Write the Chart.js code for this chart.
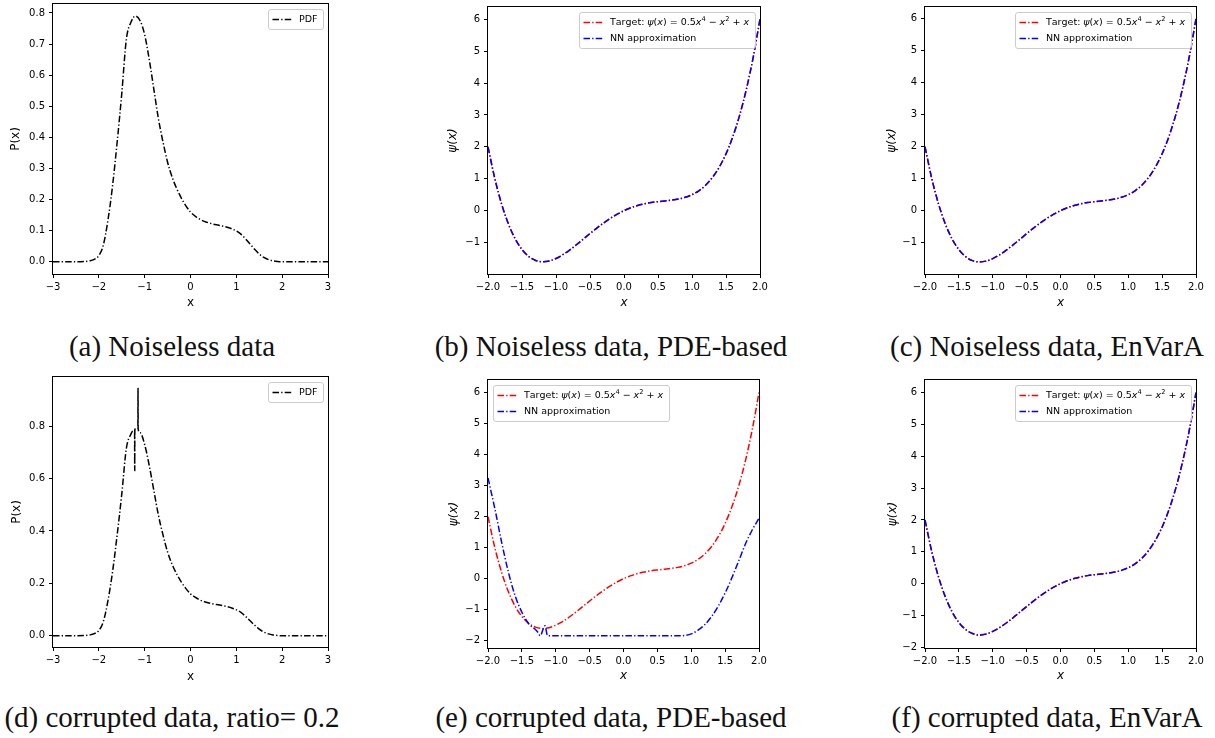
<!DOCTYPE html>
<html><head><meta charset="utf-8">
<script src="https://cdn.jsdelivr.net/npm/chart.js@4.4.0/dist/chart.umd.min.js"></script>
<style>
html,body{margin:0;padding:0;background:#fff;width:1215px;height:738px;overflow:hidden;position:relative;}
.panel{position:absolute;}
.cap{position:absolute;font-family:"Liberation Serif",serif;font-size:29px;color:#111;white-space:nowrap;transform:translate(-50%,-50%);line-height:1;}
</style></head><body>
<script>
// ---------------- data ----------------
const pdfX = [-3.0,-2.6,-2.3,-2.2,-2.1,-2.0,-1.9,-1.8,-1.7,-1.6,-1.5,-1.4,-1.3,-1.2,-1.1,-1.0,-0.9,-0.8,-0.7,-0.6,-0.5,-0.4,-0.3,-0.2,-0.1,0.0,0.1,0.2,0.3,0.4,0.5,0.6,0.7,0.8,0.9,1.0,1.1,1.2,1.3,1.4,1.5,1.6,1.7,1.8,1.9,2.0,2.4,3.0];
const pdfY = [0,0,0.001,0.003,0.008,0.02,0.055,0.135,0.245,0.385,0.54,0.715,0.77,0.79,0.775,0.73,0.65,0.555,0.46,0.385,0.32,0.272,0.235,0.205,0.18,0.16,0.147,0.137,0.13,0.125,0.121,0.118,0.115,0.111,0.106,0.099,0.089,0.074,0.057,0.04,0.025,0.014,0.007,0.003,0.001,0,0,0];

const pdfCorruptX = [-3.0,-2.6,-2.3,-2.2,-2.1,-2.0,-1.9,-1.8,-1.7,-1.6,-1.5,-1.4,-1.3,-1.25,-1.22,-1.217,-1.214,-1.18,-1.148,-1.145,-1.142,-1.1,-1.0,-0.9,-0.8,-0.7,-0.6,-0.5,-0.4,-0.3,-0.2,-0.1,0.0,0.1,0.2,0.3,0.4,0.5,0.6,0.7,0.8,0.9,1.0,1.1,1.2,1.3,1.4,1.5,1.6,1.7,1.8,1.9,2.0,2.4,3.0];
const pdfCorruptY = [0,0,0.001,0.003,0.008,0.02,0.055,0.135,0.245,0.385,0.54,0.715,0.77,0.784,0.787,0.631,0.788,0.791,0.79,0.944,0.789,0.775,0.73,0.65,0.555,0.46,0.385,0.32,0.272,0.235,0.205,0.18,0.16,0.147,0.137,0.13,0.125,0.121,0.118,0.115,0.111,0.106,0.099,0.089,0.074,0.057,0.04,0.025,0.014,0.007,0.003,0.001,0,0,0];

const psiX = [-2.0,-1.9,-1.8,-1.7,-1.6,-1.5,-1.4,-1.3,-1.2,-1.1,-1.0,-0.9,-0.8,-0.7,-0.6,-0.5,-0.4,-0.3,-0.2,-0.1,0.0,0.1,0.2,0.3,0.4,0.5,0.6,0.7,0.8,0.9,1.0,1.1,1.2,1.3,1.4,1.5,1.6,1.7,1.8,1.9,2.0];
const psiTarget = [2.0,1.006,0.209,-0.414,-0.883,-1.219,-1.439,-1.562,-1.603,-1.578,-1.5,-1.382,-1.235,-1.07,-0.895,-0.719,-0.547,-0.386,-0.239,-0.11,0,0.09,0.161,0.214,0.253,0.281,0.305,0.33,0.365,0.418,0.5,0.622,0.797,1.038,1.361,1.781,2.317,2.986,3.809,4.806,6.0];
const nnNoiselessPde = [2.0,1.006,0.209,-0.414,-0.883,-1.219,-1.439,-1.562,-1.603,-1.578,-1.5,-1.382,-1.235,-1.07,-0.895,-0.719,-0.547,-0.386,-0.239,-0.11,0,0.09,0.161,0.214,0.253,0.281,0.305,0.33,0.365,0.418,0.5,0.622,0.797,1.038,1.361,1.781,2.317,2.986,3.809,4.806,6.0];
const nnNoiselessEnVarA = [2.0,1.006,0.209,-0.414,-0.883,-1.219,-1.439,-1.562,-1.603,-1.578,-1.5,-1.382,-1.235,-1.07,-0.895,-0.719,-0.547,-0.386,-0.239,-0.11,0,0.09,0.161,0.214,0.253,0.281,0.305,0.33,0.365,0.418,0.5,0.622,0.797,1.038,1.361,1.781,2.317,2.986,3.809,4.806,6.0];
const nnCorruptEnVarA = [2.0,1.006,0.209,-0.414,-0.883,-1.219,-1.439,-1.565,-1.62,-1.585,-1.5,-1.382,-1.235,-1.07,-0.895,-0.719,-0.547,-0.386,-0.239,-0.11,0,0.09,0.161,0.214,0.253,0.281,0.305,0.33,0.365,0.418,0.5,0.622,0.797,1.038,1.361,1.781,2.317,2.986,3.809,4.806,6.0];

const nnCorruptPdeX = [-2.0,-1.9,-1.8,-1.7,-1.6,-1.5,-1.4,-1.3,-1.26,-1.23,-1.16,-1.12,-1.0,-0.5,0.0,0.5,0.8,0.9,1.0,1.1,1.2,1.3,1.4,1.5,1.6,1.7,1.8,1.9,2.0];
const nnCorruptPdeY = [3.25,2.27,1.19,0.22,-0.55,-1.08,-1.45,-1.64,-1.74,-1.84,-1.52,-1.84,-1.84,-1.84,-1.84,-1.84,-1.84,-1.83,-1.78,-1.66,-1.48,-1.22,-0.88,-0.46,0.03,0.57,1.12,1.57,1.95];

const pdfXTicks = [-3,-2,-1,0,1,2,3];
const pdfXTickLabels = ['\u22123','\u22122','\u22121','0','1','2','3'];
const pdfYTicksA = [0,0.1,0.2,0.3,0.4,0.5,0.6,0.7,0.8];
const pdfYTickLabelsA = ['0.0','0.1','0.2','0.3','0.4','0.5','0.6','0.7','0.8'];
const pdfYTicksD = [0,0.2,0.4,0.6,0.8];
const pdfYTickLabelsD = ['0.0','0.2','0.4','0.6','0.8'];
const psiXTicks = [-2,-1.5,-1,-0.5,0,0.5,1,1.5,2];
const psiXTickLabels = ['\u22122.0','\u22121.5','\u22121.0','\u22120.5','0.0','0.5','1.0','1.5','2.0'];
const psiYTicksTop = [-1,0,1,2,3,4,5,6];
const psiYTickLabelsTop = ['\u22121','0','1','2','3','4','5','6'];
const psiYTicksBottom = [-2,-1,0,1,2,3,4,5,6];
const psiYTickLabelsBottom = ['\u22122','\u22121','0','1','2','3','4','5','6'];

const labelPdf = 'PDF';
const labelTarget = 'Target: \u03c8(x) = 0.5x\u2074 \u2212 x\u00b2 + x';
const labelNN = 'NN approximation';
const captions = ['(a) Noiseless data','(b) Noiseless data, PDE-based','(c) Noiseless data, EnVarA','(d) corrupted data, ratio= 0.2','(e) corrupted data, PDE-based','(f) corrupted data, EnVarA'];

// ---------------- drawing ----------------
const DASH = [6.5,2.2,1.3,2.2];

function drawRich(ctx, text, x, y, fs, measureOnly) {
  const colon = text.indexOf(':');
  let cx = x;
  for (let k = 0; k < text.length; k++) {
    const ch = text[k];
    let font = fs + 'px "DejaVu Sans"', t = ch, dy = 0;
    if (colon >= 0 && k > colon && (ch === '\u03c8' || ch === 'x')) font = 'italic ' + fs + 'px "DejaVu Sans"';
    if (ch === '\u2074' || ch === '\u00b2') { t = ch === '\u2074' ? '4' : '2'; font = (fs * 0.7) + 'px "DejaVu Sans"'; dy = -fs * 0.38; }
    ctx.font = font;
    if (!measureOnly) ctx.fillText(t, cx, y + dy);
    cx += ctx.measureText(t).width;
  }
  return cx - x;
}

const framePlugin = {
  id: 'frame',
  afterDatasetsDraw(chart) {
    const {ctx, chartArea: a} = chart;
    ctx.save();
    ctx.strokeStyle = '#000'; ctx.lineWidth = 1;
    ctx.strokeRect(Math.round(a.left) - 0.5, Math.round(a.top) - 0.5, Math.round(a.right - a.left) + 1, Math.round(a.bottom - a.top) + 1);
    ctx.restore();
  }
};

const legendPlugin = {
  id: 'mplLegend',
  afterDraw(chart, args, opts) {
    if (!opts || !opts.loc) return;
    const ctx = chart.ctx, a = chart.chartArea, fs = 9.5;
    const pad = 4, handle = 19, gap = 7.5, rowH = 12, rowGap = 4;
    const ds = chart.data.datasets;
    ctx.save();
    ctx.textBaseline = 'middle';
    const tw = Math.max(...ds.map(d => drawRich(ctx, d.label, 0, 0, fs, true)));
    const bw = Math.round(pad * 2 + handle + gap + tw + 2), bh = pad * 2 + ds.length * rowH + (ds.length - 1) * rowGap;
    const x0 = (opts.loc === 'ur' ? Math.round(a.right - 5 - bw) : Math.round(a.left + 5)) + 0.5;
    const y0 = Math.round(a.top + 5) + 0.5;
    const r = 2.5;
    ctx.beginPath();
    ctx.moveTo(x0 + r, y0); ctx.lineTo(x0 + bw - r, y0); ctx.quadraticCurveTo(x0 + bw, y0, x0 + bw, y0 + r);
    ctx.lineTo(x0 + bw, y0 + bh - r); ctx.quadraticCurveTo(x0 + bw, y0 + bh, x0 + bw - r, y0 + bh);
    ctx.lineTo(x0 + r, y0 + bh); ctx.quadraticCurveTo(x0, y0 + bh, x0, y0 + bh - r);
    ctx.lineTo(x0, y0 + r); ctx.quadraticCurveTo(x0, y0, x0 + r, y0);
    ctx.closePath();
    ctx.fillStyle = 'rgba(255,255,255,0.8)'; ctx.fill();
    ctx.strokeStyle = '#cccccc'; ctx.lineWidth = 1; ctx.stroke();
    ds.forEach((d, i) => {
      const cy = y0 + pad + rowH / 2 + i * (rowH + rowGap);
      ctx.beginPath(); ctx.setLineDash(d.borderDash); ctx.strokeStyle = d.borderColor; ctx.lineWidth = d.borderWidth;
      ctx.moveTo(x0 + pad, cy); ctx.lineTo(x0 + pad + handle, cy); ctx.stroke(); ctx.setLineDash([]);
      ctx.fillStyle = '#000';
      drawRich(ctx, d.label, x0 + pad + handle + gap, cy, fs, false);
    });
    ctx.restore();
  }
};

function makePanel(cfg) {
  const Wy = cfg.yTitleOff + 6, Hx = cfg.xTitleOff + 6, padT = 8, padR = 12;
  const w = Wy + (cfg.R - cfg.L) + padR, h = padT + (cfg.B - cfg.T) + Hx;
  const div = document.createElement('div');
  div.className = 'panel';
  div.style.left = (cfg.L - Wy) + 'px'; div.style.top = (cfg.T - padT) + 'px';
  div.style.width = w + 'px'; div.style.height = h + 'px';
  const cv = document.createElement('canvas');
  div.appendChild(cv); document.body.appendChild(div);
  const n = cfg.series.length;
  const axisGrid = {display: true, drawOnChartArea: false, drawTicks: true, tickLength: 4, tickColor: '#000', tickWidth: 1, color: '#000'};
  new Chart(cv, {
    type: 'line',
    data: {datasets: cfg.series.map((s, i) => ({
      label: s.label, data: s.x.map((x, j) => ({x: x, y: s.y[j]})),
      borderColor: s.color, borderWidth: 1.5, borderDash: DASH, pointRadius: 0, pointHoverRadius: 0,
      fill: false, cubicInterpolationMode: 'monotone', order: n - i
    }))},
    options: {
      responsive: true, maintainAspectRatio: false, animation: false, devicePixelRatio: 1, events: [],
      layout: {padding: {top: padT, right: padR, left: 0, bottom: 0}},
      plugins: {legend: {display: false}, tooltip: {enabled: false}, mplLegend: {loc: cfg.legendLoc}},
      scales: {
        x: {
          type: 'linear', min: cfg.xMin, max: cfg.xMax,
          afterBuildTicks: sc => { sc.ticks = cfg.xTicks.map(v => ({value: v})); },
          afterFit: sc => { sc.height = Hx; },
          ticks: {autoSkip: false, maxRotation: 0, minRotation: 0, padding: 3, color: '#000', font: {size: 10, family: '"DejaVu Sans"'}, callback: (v, i) => cfg.xTickLabels[i]},
          grid: axisGrid, border: {display: false},
          title: {display: true, text: cfg.xTitle, color: '#000', padding: 0, font: {size: 12, lineHeight: 1, family: '"DejaVu Sans"', style: cfg.italic ? 'italic' : 'normal'}}
        },
        y: {
          type: 'linear', min: cfg.yMin, max: cfg.yMax,
          afterBuildTicks: sc => { sc.ticks = cfg.yTicks.map(v => ({value: v})); },
          afterFit: sc => { sc.width = Wy; },
          ticks: {autoSkip: false, padding: 4, color: '#000', font: {size: 10, family: '"DejaVu Sans"'}, callback: (v, i) => cfg.yTickLabels[i]},
          grid: axisGrid, border: {display: false},
          title: {display: true, text: cfg.yTitle, color: '#000', padding: 0, font: {size: 12, lineHeight: 1, family: '"DejaVu Sans"', style: cfg.italic ? 'italic' : 'normal'}}
        }
      }
    },
    plugins: [framePlugin, legendPlugin]
  });
}

const pdfSeries = [{label: labelPdf, x: pdfX, y: pdfY, color: '#000000'}];
const pdfCorruptSeries = [{label: labelPdf, x: pdfCorruptX, y: pdfCorruptY, color: '#000000'}];

makePanel({L: 53, T: 2, R: 328, B: 274, yTitleOff: 37, xTitleOff: 29, xMin: -3, xMax: 3, yMin: -0.0392, yMax: 0.8287,
  xTicks: pdfXTicks, xTickLabels: pdfXTickLabels, yTicks: pdfYTicksA, yTickLabels: pdfYTickLabelsA,
  xTitle: 'x', yTitle: 'P(x)', italic: false, legendLoc: 'ur', series: pdfSeries});
makePanel({L: 488, T: 5, R: 760, B: 274, yTitleOff: 35, xTitleOff: 29, xMin: -2, xMax: 2, yMin: -1.986, yMax: 6.383,
  xTicks: psiXTicks, xTickLabels: psiXTickLabels, yTicks: psiYTicksTop, yTickLabels: psiYTickLabelsTop,
  xTitle: 'x', yTitle: '\u03c8(x)', italic: true, legendLoc: 'ur',
  series: [{label: labelTarget, x: psiX, y: psiTarget, color: '#ff0000'}, {label: labelNN, x: psiX, y: nnNoiselessPde, color: '#0000ff'}]});
makePanel({L: 925, T: 5, R: 1196, B: 274, yTitleOff: 33, xTitleOff: 29, xMin: -2, xMax: 2, yMin: -1.98, yMax: 6.37,
  xTicks: psiXTicks, xTickLabels: psiXTickLabels, yTicks: psiYTicksTop, yTickLabels: psiYTickLabelsTop,
  xTitle: 'x', yTitle: '\u03c8(x)', italic: true, legendLoc: 'ur',
  series: [{label: labelTarget, x: psiX, y: psiTarget, color: '#ff0000'}, {label: labelNN, x: psiX, y: nnNoiselessEnVarA, color: '#0000ff'}]});
makePanel({L: 53, T: 375, R: 328, B: 647, yTitleOff: 36, xTitleOff: 30, xMin: -3, xMax: 3, yMin: -0.043, yMax: 0.988,
  xTicks: pdfXTicks, xTickLabels: pdfXTickLabels, yTicks: pdfYTicksD, yTickLabels: pdfYTickLabelsD,
  xTitle: 'x', yTitle: 'P(x)', italic: false, legendLoc: 'ur', series: pdfCorruptSeries});
makePanel({L: 488, T: 378, R: 759, B: 648, yTitleOff: 34, xTitleOff: 28, xMin: -2, xMax: 2, yMin: -2.234, yMax: 6.406,
  xTicks: psiXTicks, xTickLabels: psiXTickLabels, yTicks: psiYTicksBottom, yTickLabels: psiYTickLabelsBottom,
  xTitle: 'x', yTitle: '\u03c8(x)', italic: true, legendLoc: 'ul',
  series: [{label: labelTarget, x: psiX, y: psiTarget, color: '#ff0000'}, {label: labelNN, x: nnCorruptPdeX, y: nnCorruptPdeY, color: '#0000ff'}]});
makePanel({L: 925, T: 378, R: 1196, B: 648, yTitleOff: 32, xTitleOff: 28, xMin: -2, xMax: 2, yMin: -2.02, yMax: 6.396,
  xTicks: psiXTicks, xTickLabels: psiXTickLabels, yTicks: psiYTicksBottom, yTickLabels: psiYTickLabelsBottom,
  xTitle: 'x', yTitle: '\u03c8(x)', italic: true, legendLoc: 'ur',
  series: [{label: labelTarget, x: psiX, y: psiTarget, color: '#ff0000'}, {label: labelNN, x: psiX, y: nnCorruptEnVarA, color: '#0000ff'}]});

const capPos = [[172, 346], [611, 346], [1047, 346], [172, 717], [611, 717], [1047, 717]];
captions.forEach((c, i) => {
  const d = document.createElement('div');
  d.className = 'cap'; d.textContent = c;
  d.style.left = capPos[i][0] + 'px'; d.style.top = capPos[i][1] + 'px';
  document.body.appendChild(d);
});
</script>
</body></html>
